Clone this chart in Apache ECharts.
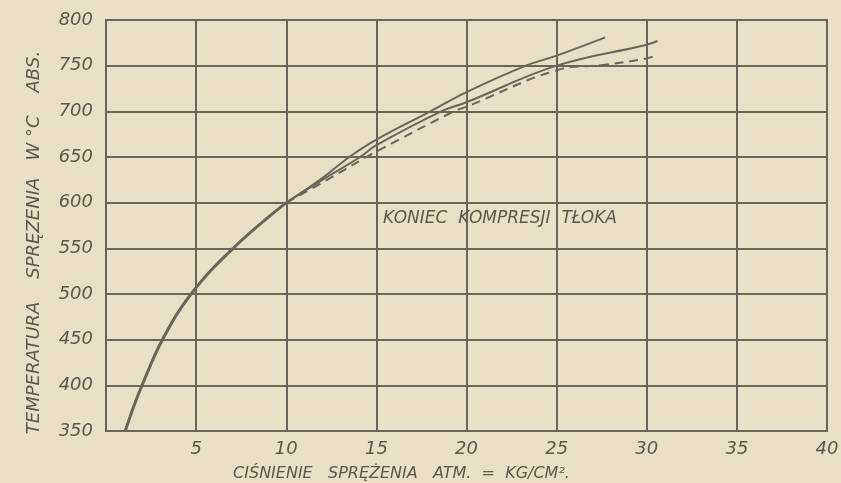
<!DOCTYPE html>
<html>
<head>
<meta charset="utf-8">
<title>Temperatura sprężenia</title>
<script src="https://cdn.jsdelivr.net/npm/echarts@6/dist/echarts.min.js"></script>
<style>
  html, body { margin: 0; padding: 0; background: #e9dfc4; }
  #chart { width: 841px; height: 483px; }
</style>
</head>
<body>
<div id="chart"></div>
<script>
// wspólna dolna część krzywej (ciśnienie, temperatura)
const commonCurve = [[1.07, 350], [1.5, 375], [2.0, 400], [3.13, 450], [4.72, 500], [7.05, 550], [10, 600]];
// trzy gałęzie powyżej 600
const upperBranch = [[12, 627], [13.5, 650], [15, 669], [18, 700], [20, 721], [23.3, 750], [25, 761], [27.7, 781]];
const middleBranch = [[12, 625], [14.1, 650], [15, 663], [18.6, 700], [20, 710], [25, 750], [30, 773], [30.6, 777]];
const dashedBranch = [[12, 622], [14.45, 650], [15, 656], [19.3, 700], [20, 705], [25, 745], [27.7, 751], [30, 758], [30.6, 762]];

const xTicks = [0, 5, 10, 15, 20, 25, 30, 35, 40];
const yTicks = [350, 400, 450, 500, 550, 600, 650, 700, 750, 800];

const ink = '#6a645a';
const textInk = '#5c564b';
const font = 'DejaVu Sans';

const chart = echarts.init(document.getElementById('chart'));

const lineSeries = (name, data, type, width) => ({
  name,
  type: 'line',
  data,
  smooth: 0.4,
  symbol: 'none',
  lineStyle: { color: ink, width, type },
  z: 5
});

const option = {
  backgroundColor: '#e9dfc4',
  animation: false,
  grid: { left: 106, right: 14, top: 20, bottom: 52, outerBoundsMode: 'none', containLabel: false },
  xAxis: {
    type: 'value',
    min: xTicks[0],
    max: xTicks[xTicks.length - 1],
    interval: 5,
    axisLine: { show: true, lineStyle: { color: ink, width: 2 } },
    axisTick: { show: false },
    splitLine: { show: true, lineStyle: { color: ink, width: 2 } },
    axisLabel: {
      color: textInk,
      fontFamily: font,
      fontStyle: 'italic',
      fontSize: 18,
      margin: 9,
      formatter: v => (v === 0 ? '' : String(v))
    },
    name: 'CIŚNIENIE   SPRĘŻENIA   ATM.  =  KG/CM².',
    nameLocation: 'middle',
    nameGap: 35,
    nameTextStyle: { color: textInk, fontFamily: font, fontStyle: 'italic', fontSize: 16, padding: [0, 0, 0, -130] }
  },
  yAxis: {
    type: 'value',
    min: yTicks[0],
    max: yTicks[yTicks.length - 1],
    interval: 50,
    axisLine: { show: true, lineStyle: { color: ink, width: 2 } },
    axisTick: { show: false },
    splitLine: { show: true, lineStyle: { color: ink, width: 2 } },
    axisLabel: {
      color: textInk,
      fontFamily: font,
      fontStyle: 'italic',
      fontSize: 18,
      margin: 13
    },
    name: 'TEMPERATURA    SPRĘZENIA   W °C    ABS.',
    nameLocation: 'middle',
    nameGap: 63,
    nameTextStyle: { color: textInk, fontFamily: font, fontStyle: 'italic', fontSize: 18, padding: [0, 34, 0, 0] }
  },
  graphic: [
    {
      type: 'rect',
      shape: { x: 106, y: 20, width: 721, height: 411 },
      style: { fill: 'none', stroke: ink, lineWidth: 2 },
      silent: true,
      z: 10
    },
    {
      type: 'text',
      left: 383,
      top: 210,
      style: {
        text: 'KONIEC  KOMPRESJI  TŁOKA',
        fill: textInk,
        font: 'italic 17px "DejaVu Sans"'
      },
      z: 10
    }
  ],
  series: [
    lineSeries('wspólna', commonCurve, 'solid', 3),
    lineSeries('górna', [commonCurve[commonCurve.length - 1]].concat(upperBranch), 'solid', 2),
    lineSeries('środkowa', [commonCurve[commonCurve.length - 1]].concat(middleBranch), 'solid', 2),
    lineSeries('przerywana', [commonCurve[commonCurve.length - 1]].concat(dashedBranch), [9, 6], 2)
  ]
};

chart.setOption(option);
</script>
</body>
</html>
